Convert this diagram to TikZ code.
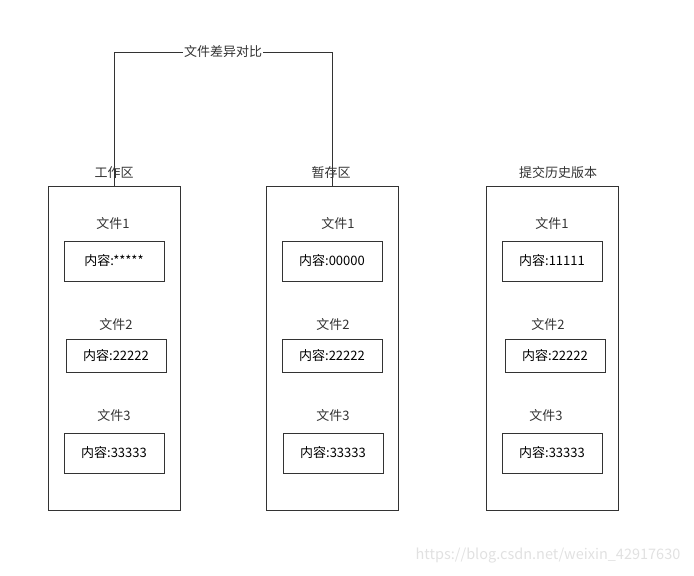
\documentclass[tikz,border=0pt]{standalone}
\usepackage{fontspec}
\setmainfont{Noto Sans CJK SC}
\usepackage{tikz}
\usetikzlibrary{positioning}
\definecolor{linecolor}{RGB}{51, 51, 51}
\definecolor{markcolor}{RGB}{225, 225, 225}

\begin{document}
\begin{tikzpicture}[
    x=1pt, y=-1pt,
    font=\fontsize{13pt}{15pt}\selectfont,
    area/.style={draw=linecolor, line width=1pt, minimum width=132pt, minimum height=324pt, inner sep=0pt},
    filebox/.style={draw=linecolor, line width=0.9pt, minimum width=100pt, minimum height=#1, inner sep=0pt},
    filebox/.default=40pt,
    title/.style={text=linecolor, inner sep=1pt},
    link/.style={draw=linecolor, line width=1pt}
]
    \useasboundingbox (0,0) rectangle (694,576);

    % Working area
    \node[area] (work) at (114, 348) {};
    \node[title] (worktitle) at (114, 173) {工作区};
    \node[title] (workname1) at (113, 224) {文件1};
    \node[filebox] (workfile1) at (114, 261) {内容:*****};
    \node[title] (workname2) at (116, 325) {文件2};
    \node[filebox=33pt] (workfile2) at (116, 356) {内容:22222};
    \node[title] (workname3) at (114, 416) {文件3};
    \node[filebox] (workfile3) at (114, 453) {内容:33333};

    % Staging area
    \node[area] (stage) at (332, 348) {};
    \node[title] (stagetitle) at (331, 173) {暂存区};
    \node[title] (stagename1) at (338, 224) {文件1};
    \node[filebox] (stagefile1) at (332, 261) {内容:00000};
    \node[title] (stagename2) at (333, 325) {文件2};
    \node[filebox=33pt] (stagefile2) at (332, 356) {内容:22222};
    \node[title] (stagename3) at (333, 416) {文件3};
    \node[filebox] (stagefile3) at (333, 453) {内容:33333};

    % Commit history
    \node[area] (commit) at (552, 348) {};
    \node[title] (committitle) at (558, 173) {提交历史版本};
    \node[title] (commitname1) at (552, 224) {文件1};
    \node[filebox] (commitfile1) at (552, 261) {内容:11111};
    \node[title] (commitname2) at (548, 325) {文件2};
    \node[filebox=33pt] (commitfile2) at (555, 356) {内容:22222};
    \node[title] (commitname3) at (546, 416) {文件3};
    \node[filebox] (commitfile3) at (552, 453) {内容:33333};

    % Diff between working area and staging area
    \node[title, fill=white] (diff) at (223, 52) {文件差异对比};
    \draw[link] (work.north) |- (diff.west);
    \draw[link] (diff.east) -| (stage.north);

    % Watermark
    \node[text=markcolor, font=\fontsize{14.5pt}{16pt}\selectfont] (mark) at (548, 556) {https://blog.csdn.net/weixin\_42917630};

\end{tikzpicture}
\end{document}
